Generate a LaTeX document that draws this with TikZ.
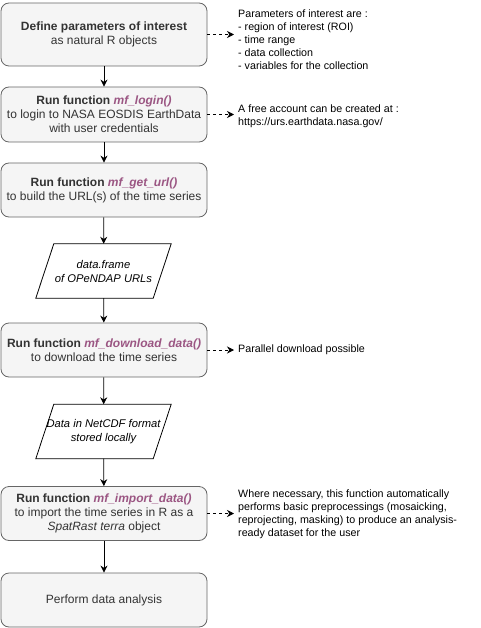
\documentclass[tikz,border=0pt]{standalone}
\usepackage{fontspec}
\setmainfont{Liberation Sans}
\usetikzlibrary{arrows.meta,calc,backgrounds}
\definecolor{boxfill}{HTML}{F5F5F5}
\definecolor{boxline}{HTML}{666666}
\definecolor{boxtext}{HTML}{333333}
\definecolor{fncol}{HTML}{9B5683}
\newcommand{\fn}[1]{\textcolor{fncol}{\textbf{\textit{#1}}}}
\tikzset{
  stepbox/.style={draw=boxline, fill=boxfill, text=boxtext, rounded corners=8pt,
    line width=0.8pt, minimum width=206pt, align=center, inner sep=0pt,
    font=\fontsize{12}{14}\selectfont},
  databox/.style={draw=none, minimum width=117pt, minimum height=54pt, align=center,
    inner sep=0pt, font=\fontsize{11.2}{14}\selectfont\itshape},
  para/.style={draw=black, line width=0.8pt, fill=white},
  flow/.style={line width=0.8pt, -{Stealth[length=7pt,width=7pt]}},
  note/.style={line width=0.8pt, dash pattern=on 3pt off 3pt, -{Stealth[length=7pt,width=7pt]}},
  annot/.style={anchor=west, align=left, inner sep=0pt, font=\fontsize{10.7}{13}\selectfont}
}
\begin{document}
\begin{tikzpicture}[x=1pt,y=-1pt]
\useasboundingbox (0,0) rectangle (481,628);
\node[stepbox, minimum height=63pt] (b1) at (104,34.5)
  {\textbf{Define parameters of interest}\\as natural R objects};
\node[stepbox, minimum height=55pt] (b2) at (104,114.5)
  {\textbf{Run function} \fn{mf\_login()}\\to login to NASA EOSDIS EarthData\\with user credentials};
\node[stepbox, minimum height=54pt] (b3) at (104,190)
  {\textbf{Run function} \fn{mf\_get\_url()}\\to build the URL(s) of the time series};
\node[databox] (p1) at (103.5,271) {data.frame\\of OPeNDAP URLs};
\node[stepbox, minimum height=54pt] (b4) at (104,350)
  {\textbf{Run function} \fn{mf\_download\_data()}\\to download the time series};
\node[databox] (p2) at (103.5,431.5) {Data in NetCDF format\\stored locally};
\node[stepbox, minimum height=54pt] (b5) at (104,513.5)
  {\textbf{Run function} \fn{mf\_import\_data()}\\to import the time series in R as a\\\textit{SpatRast terra} object};
\node[stepbox, minimum height=54pt] (b6) at (104,600) {Perform data analysis};

\begin{scope}[on background layer]
\foreach \p in {p1,p2}{
  \path[para] ($(\p.south west)+(-9,0)$) -- ($(\p.south east)+(-9,0)$) --
    ($(\p.north east)+(9,0)$) -- ($(\p.north west)+(9,0)$) -- cycle;
}
\end{scope}

\draw[flow] (b1) -- (b2);
\draw[flow] (b2) -- (b3);
\draw[flow] (b3) -- (p1);
\draw[flow] (p1) -- (b4);
\draw[flow] (b4) -- (p2);
\draw[flow] (p2) -- (b5);
\draw[flow] (b5) -- (b6);

\node[annot] (a1) at (238,39.5) {Parameters of interest are :\\- region of interest (ROI)\\- time range\\- data collection\\- variables for the collection};
\node[annot] (a2) at (238,116) {A free account can be created at :\\https://urs.earthdata.nasa.gov/};
\node[annot] (a3) at (238,350) {Parallel download possible};
\node[annot] (a4) at (238,514.5) {Where necessary, this function automatically\\performs basic preprocessings (mosaicking,\\reprojecting, masking) to produce an analysis-\\ready dataset for the user};

\coordinate (e1) at (234,34.5);
\coordinate (e2) at (234,114.5);
\coordinate (e3) at (234,350);
\coordinate (e4) at (234,513.5);
\draw[note] (b1.east) -- (e1);
\draw[note] (b2.east) -- (e2);
\draw[note] (b4.east) -- (e3);
\draw[note] (b5.east) -- (e4);
\end{tikzpicture}
\end{document}
